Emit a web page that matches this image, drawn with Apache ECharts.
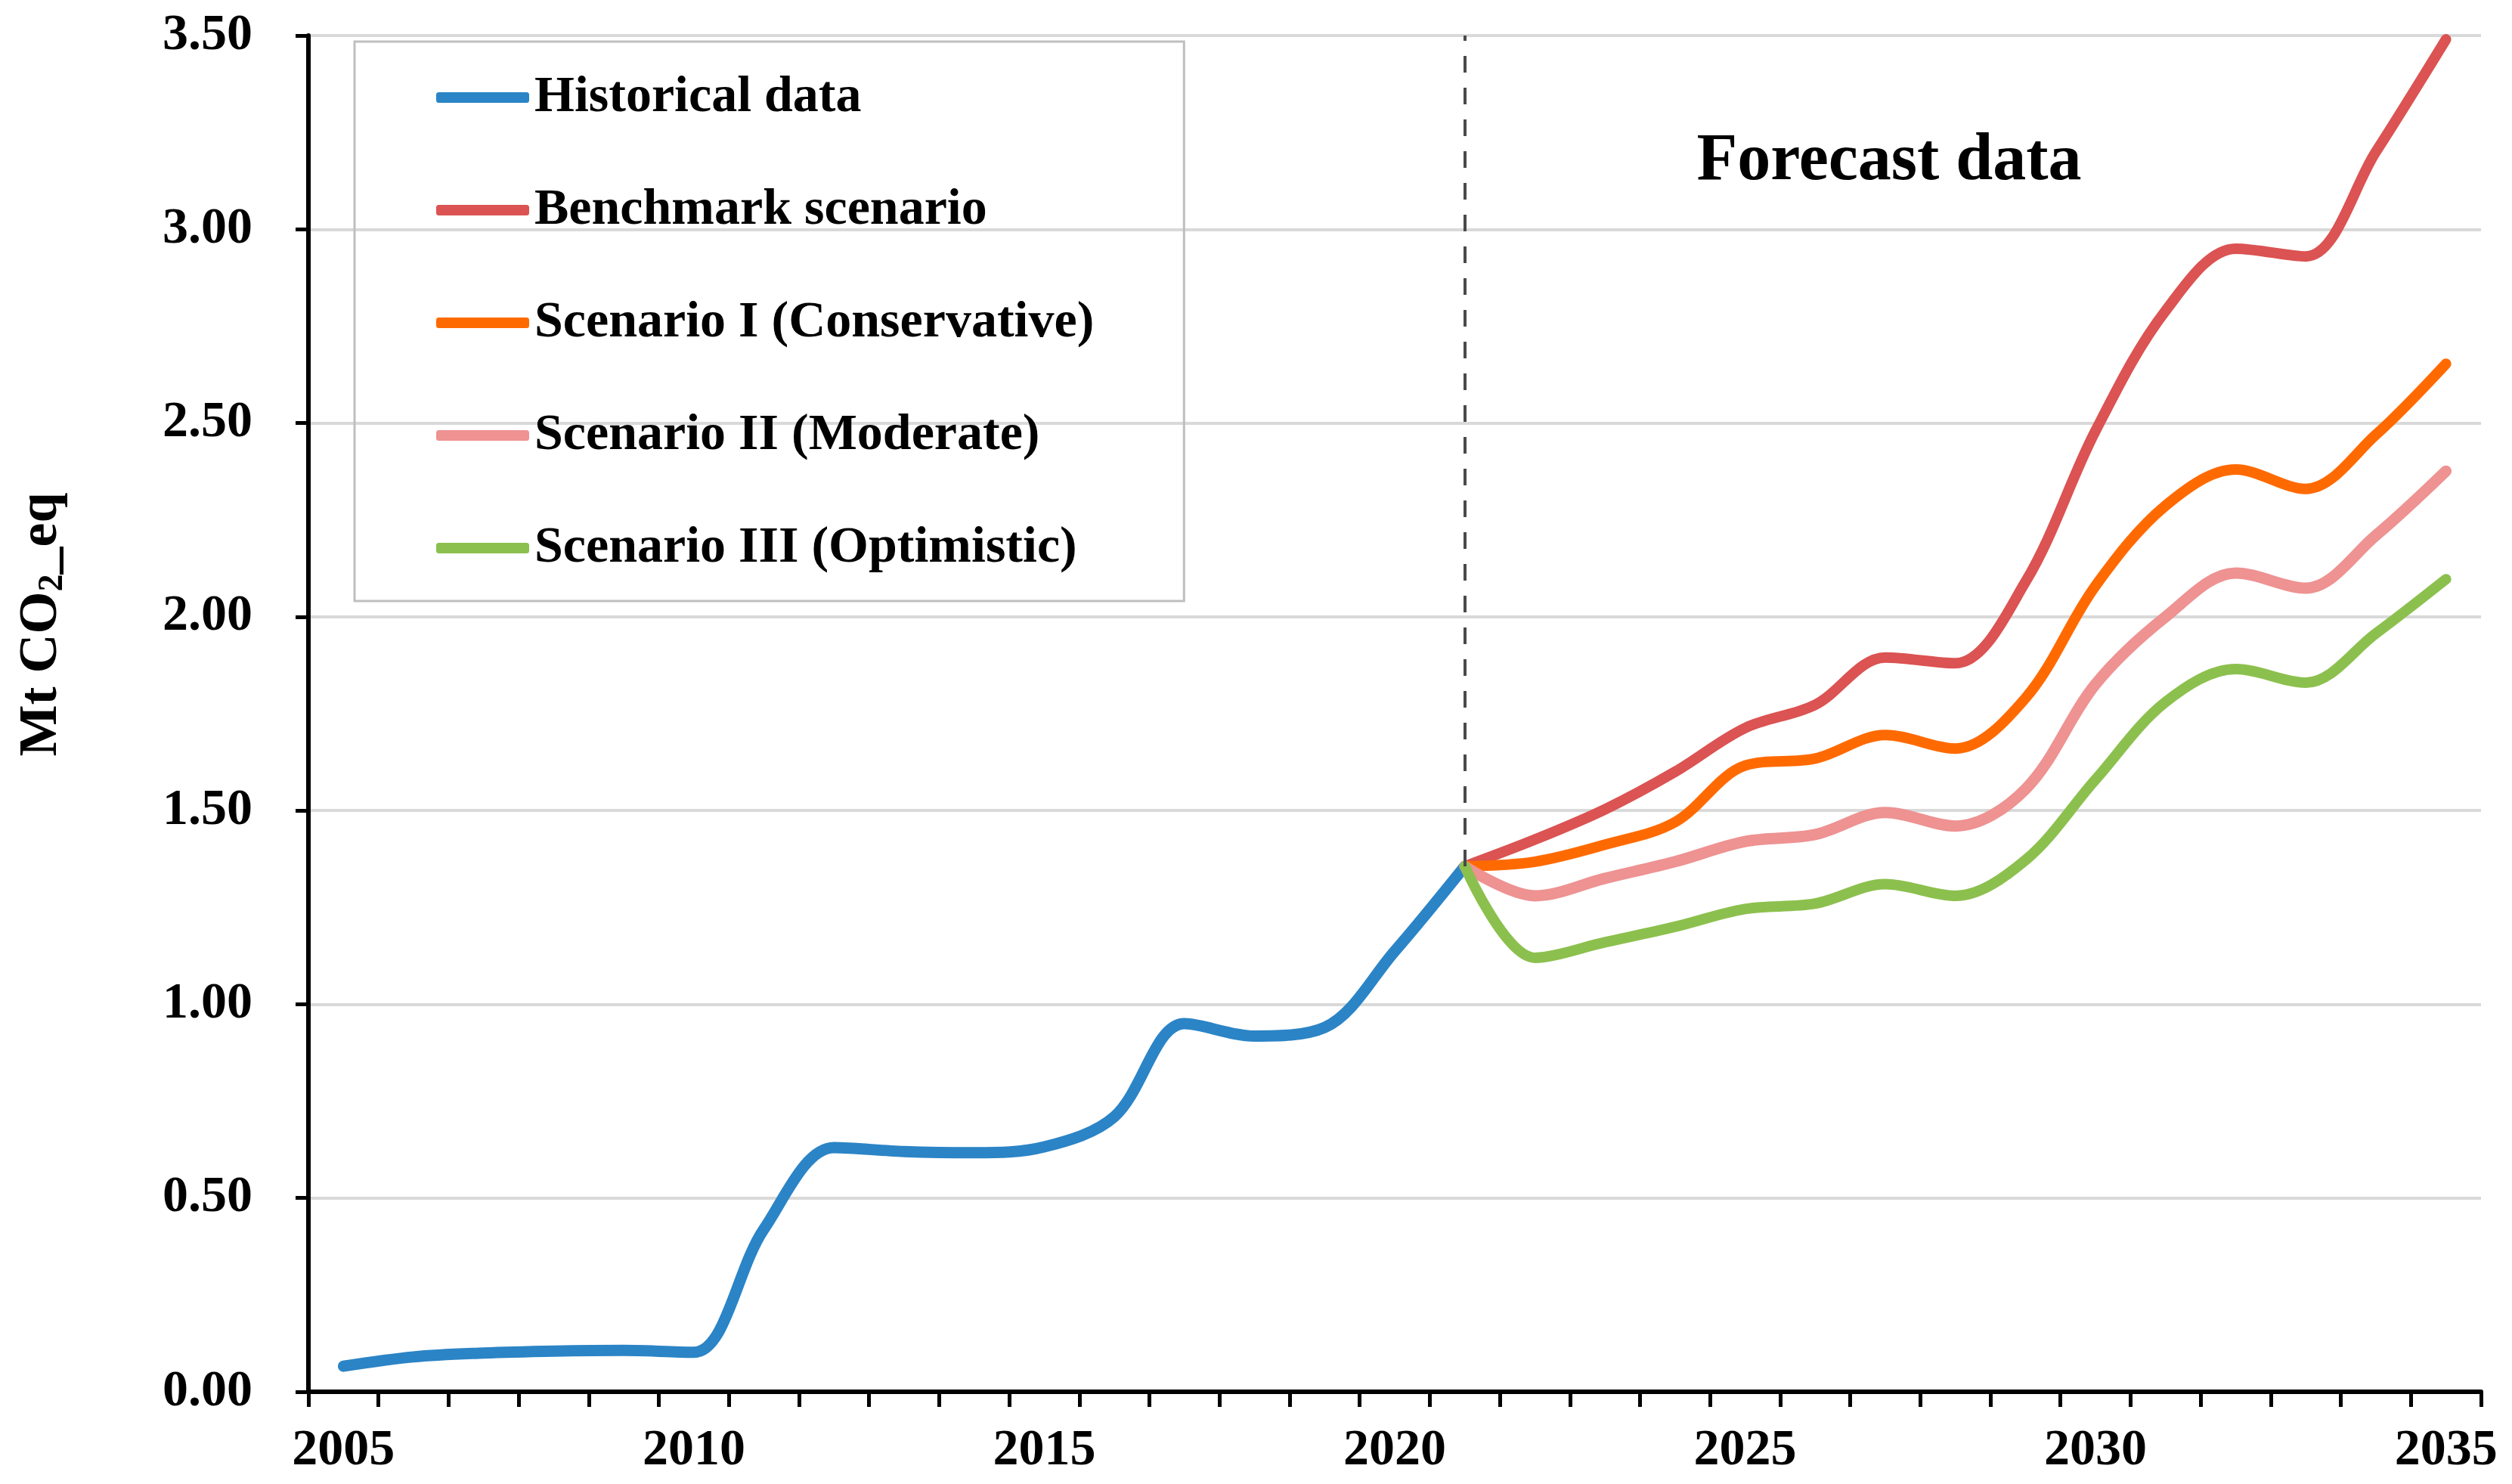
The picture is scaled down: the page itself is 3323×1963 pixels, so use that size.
<!DOCTYPE html>
<html>
<head>
<meta charset="utf-8">
<script src="https://cdn.jsdelivr.net/npm/echarts@6/dist/echarts.min.js"></script>
<style>
html,body{margin:0;padding:0;background:#fff;}
#chart{width:3323px;height:1963px;}
</style>
</head>
<body>
<div id="chart"></div>
<script>
// ---- data ----
const years = ['2005','2006','2007','2008','2009','2010','2011','2012','2013','2014','2015','2016','2017','2018','2019','2020','2021','2022','2023','2024','2025','2026','2027','2028','2029','2030','2031','2032','2033','2034','2035'];
const historicalYears = ['2005','2006','2007','2008','2009','2010','2011','2012','2013','2014','2015','2016','2017','2018','2019','2020','2021'];
const historical = [0.066, 0.090, 0.100, 0.105, 0.107, 0.102, 0.42, 0.630, 0.620, 0.617, 0.632, 0.710, 0.950, 0.918, 0.940, 1.137, 1.356];
const forecastYears = ['2021','2022','2023','2024','2025','2026','2027','2028','2029','2030','2031','2032','2033','2034','2035'];
const benchmark    = [1.356, 1.425, 1.503, 1.600, 1.713, 1.773, 1.895, 1.880, 2.090, 2.480, 2.790, 2.950, 2.930, 3.200, 3.490];
const conservative = [1.356, 1.368, 1.412, 1.470, 1.616, 1.634, 1.695, 1.660, 1.790, 2.080, 2.287, 2.380, 2.330, 2.470, 2.653];
const moderate     = [1.356, 1.280, 1.325, 1.368, 1.420, 1.438, 1.495, 1.460, 1.555, 1.826, 2.000, 2.113, 2.074, 2.210, 2.376];
const optimistic   = [1.356, 1.120, 1.160, 1.200, 1.246, 1.260, 1.310, 1.280, 1.372, 1.580, 1.780, 1.865, 1.830, 1.957, 2.097];
const seriesNames = ['Historical data','Benchmark scenario','Scenario I (Conservative)','Scenario II (Moderate)','Scenario III (Optimistic)'];
const yTicks = [0, 0.5, 1.0, 1.5, 2.0, 2.5, 3.0, 3.5];
const forecastLabel = 'Forecast data';

// ---- build ----
function toPairs(ys, vals){ return ys.map((y,i)=>[y, vals[i]]); }
const colors = ['#2b84c6','#db5352','#ff6a00','#ee9292','#8cc04e'];
const FONT = "'Liberation Serif','Times New Roman',serif";

const chart = echarts.init(document.getElementById('chart'), null, {renderer:'canvas'});
const lineSeries = (name, data, color, width) => ({
  name, type:'line', data, smooth:0.34, showSymbol:false, symbol:'none',
  lineStyle:{color, width, cap:'round', join:'round'}, itemStyle:{color},
  z: 3
});
const hist = lineSeries(seriesNames[0], toPairs(historicalYears, historical), colors[0], 15);
hist.markLine = {
  silent:true, symbol:'none', label:{show:false},
  lineStyle:{color:'#4a4a4a', width:4, type:[22,20]},
  data:[[{coord:[forecastYears[0], historical[historical.length-1]]},{coord:[forecastYears[0], yTicks[yTicks.length-1]]}]]
};

chart.setOption({
  animation:false,
  backgroundColor:'#ffffff',
  grid:{left:408, right:41, top:47, bottom:122, containLabel:false},
  legend:{
    data: seriesNames,
    orient:'vertical', left:469, top:55,
    padding:[40,119,36,108],
    borderColor:'#bfbfbf', borderWidth:3,
    itemWidth:123, itemHeight:14, itemGap:81,
    icon:'roundRect',
    textStyle:{fontFamily:FONT, fontWeight:'bold', fontSize:68, color:'#000', lineHeight:60, padding:[0,0,0,2]}
  },
  xAxis:{
    type:'category', data:years, boundaryGap:true,
    axisLine:{show:true, lineStyle:{color:'#000', width:6}},
    axisTick:{show:true, interval:0, length:20, inside:false, lineStyle:{color:'#000', width:5}},
    axisLabel:{interval:4, margin:44, fontFamily:FONT, fontWeight:'bold', fontSize:68, color:'#000'},
    splitLine:{show:false}
  },
  yAxis:{
    type:'value', min:yTicks[0], max:yTicks[yTicks.length-1], interval:0.5,
    axisLine:{show:true, lineStyle:{color:'#000', width:6}},
    axisTick:{show:true, length:17, lineStyle:{color:'#000', width:5}},
    axisLabel:{margin:74, fontFamily:FONT, fontWeight:'bold', fontSize:68, color:'#000', formatter:v=>v.toFixed(2)},
    splitLine:{show:true, lineStyle:{color:'#d9d9d9', width:4}}
  },
  graphic:[
    {type:'text', x:2499, y:214, z:10,
     style:{text:forecastLabel, fontFamily:FONT, fontWeight:'bold', fontSize:88, fill:'#000',
            align:'center', verticalAlign:'middle', textAlign:'center', textVerticalAlign:'middle'}},
    {type:'text', x:55, y:826, rotation:Math.PI/2, z:10,
     style:{text:'Mt CO{sub|2}_eq', fontFamily:FONT, fontWeight:'bold', fontSize:72, fill:'#000',
            align:'center', verticalAlign:'middle', textAlign:'center', textVerticalAlign:'middle',
            rich:{sub:{fontFamily:FONT, fontWeight:'bold', fontSize:46, fill:'#000', padding:[30,0,0,0]}}}}
  ],
  series:[
    hist,
    lineSeries(seriesNames[1], toPairs(forecastYears, benchmark), colors[1], 14),
    lineSeries(seriesNames[2], toPairs(forecastYears, conservative), colors[2], 14),
    lineSeries(seriesNames[3], toPairs(forecastYears, moderate), colors[3], 15),
    lineSeries(seriesNames[4], toPairs(forecastYears, optimistic), colors[4], 14)
  ]
});
</script>
</body>
</html>
